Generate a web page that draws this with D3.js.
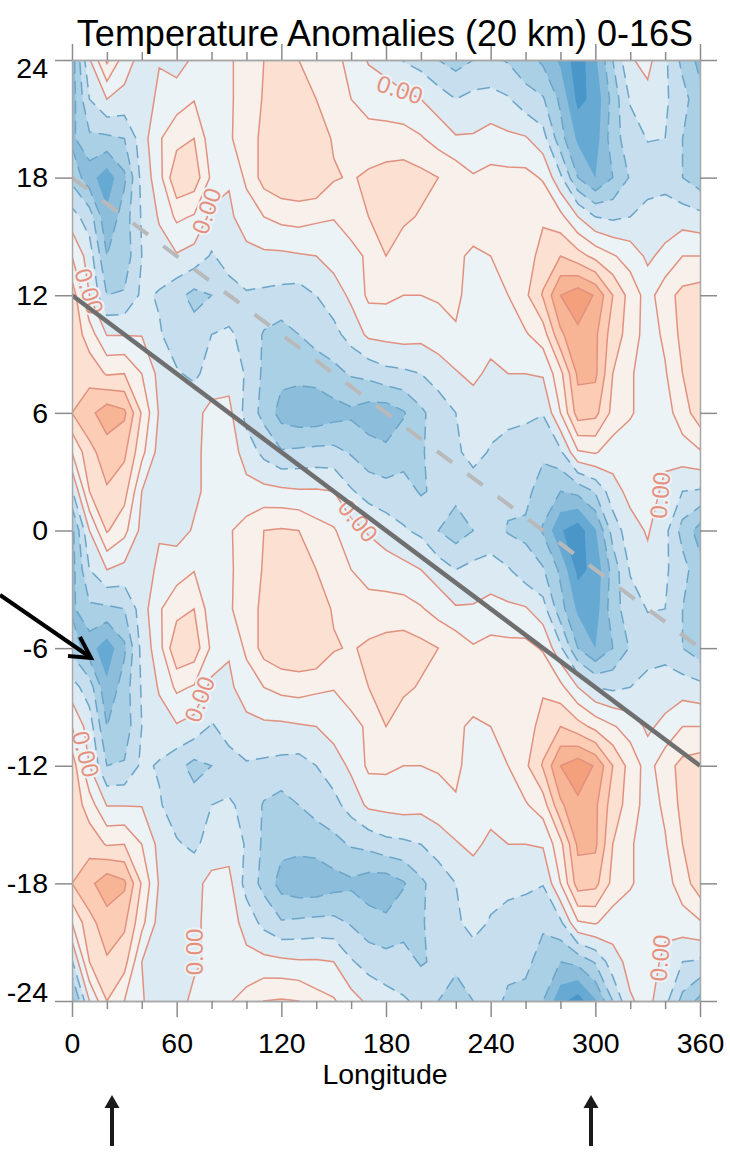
<!DOCTYPE html>
<html>
<head>
<meta charset="utf-8">
<script src="https://cdn.jsdelivr.net/npm/d3@7"></script>
<style>
  body { margin: 0; background: #fff; }
  svg { display: block; }
  text { font-family: "Liberation Sans", Arial, sans-serif; fill: #000; }
</style>
</head>
<body>
<div id="chart"></div>
<script>
// longitude every 10 deg, lag every 2 (in contour-level units)
var longitudes = d3.range(0, 361, 10);
var lags = d3.range(24, -25, -2);

var anomalies = [
  [-3.5,-0.1,2.2,0.5,-0.4,-0.05,-0.5,0.2,0.5,0.9,1.3,2.0,2.3,2.0,1.7,1.3,0.7,-0.1,-0.4,-1.05,-1.4,-2.0,-2.4,-2.0,-1.8,-2.1,-2.6,-3.2,-4.2,-5.6,-4.2,-2.0,-0.1,0.3,-0.8,-2.3,-3.3],
  [-3.5,-1,0,-0.3,-0.5,0.2,0.6,0.95,0.8,0.9,1.3,2.1,2.5,2.4,2.0,1.5,1.0,0.7,0.5,0.3,0,-0.5,-1,-0.7,-0.65,-0.9,-1.6,-1.9,-3.2,-5.3,-4.7,-2.6,-0.9,-0.3,-0.85,-1.6,-2.7],
  [-3.2,-2.2,-2.2,-2,-0.5,0.9,1.6,2,0.4,0.9,1.4,2.3,2.9,2.9,2.5,1.9,1.5,1.3,1.4,1.4,1.1,0.6,0.1,0.1,0.4,0.2,0.1,-0.6,-2.6,-4.2,-4.5,-2.4,-1.5,-0.95,-1,-2,-3],
  [-2.3,-3.6,-4.6,-3.2,-0.7,0.6,2.9,2.6,0.8,0.1,1.2,2.4,2.8,2.9,2.9,2.1,1.9,2.2,2.4,2.5,2.3,2.0,1.7,1.1,1.3,1.3,1.3,0.9,-0.8,-3,-4,-3,-1.9,-1.5,-1.3,-2,-2.6],
  [-0.6,-1.5,-3.8,-2.5,-0.9,0.1,1.2,0.9,-0.3,-0.2,0.5,1,1.3,1.4,1.2,1.05,1.6,2,2.6,2.2,1.9,1.6,1.4,1.3,1.3,1.2,1.1,1.85,1.3,0,-1,-1.2,-1,-0.6,-0.6,-0.5,-0.7],
  [1,-0.5,-3,-2.6,-1,-0.4,-0.1,-0.4,-1.1,-0.6,-0.3,-0.2,-0.2,-0.1,0,0.4,0.6,1.2,2,1.4,1.1,1.2,1.1,0.9,1,1.4,1.5,2.4,3,2.4,1.7,1.1,0.6,-0.2,0.3,1,1],
  [2.6,0,-2,-1.9,-0.8,-1.1,-1.7,-2.3,-2,-1.4,-1.1,-1.2,-1.3,-1.4,-1,-0.5,0.2,1.2,1.2,1,1,1.1,1.2,0.6,0.7,1,1.8,3.1,5,5.6,4.9,3,1.6,0.6,1.6,2.3,2.5],
  [2.7,1.5,-0.05,-0.05,-0.05,-0.9,-1.5,-1.6,-1,-0.9,-1.2,-2.1,-2.4,-2,-1.6,-1.3,-0.6,0.2,0.3,0.4,0.3,0.6,0.9,0.6,0.5,0.6,0.9,1.5,3.8,4.8,4.2,2.5,1.6,0.5,1.2,2.3,2.7],
  [2.8,2.6,1.9,2,1,-0.3,-0.9,-1.2,-0.6,-0.4,-1.1,-2.2,-2.7,-2.7,-2.6,-2.3,-1.9,-1.7,-1.3,-1.2,-1,-0.6,-0.1,0.3,-0.3,0,0,0.1,1.7,4.2,4.2,2,1.1,0.6,0.9,2,2.8],
  [3,3.7,4.6,4.2,1.9,-0.1,-0.5,-0.3,0.3,0.3,-1.4,-2.3,-3.4,-3.7,-3.7,-3.4,-3.2,-3.5,-3.6,-3.1,-2.2,-1.5,-1,-0.7,-0.6,-0.7,-0.8,-0.95,1,3.5,3.3,1.7,1.1,0.6,0.6,1.5,2.6],
  [1,2.7,3.5,3.2,1.3,-0.4,-0.8,-0.2,0.3,0.5,-0.4,-1.3,-1.9,-1.8,-1.7,-1.7,-2.1,-2.6,-2.8,-2.4,-2.1,-1.6,-1.2,-0.6,-1.1,-1.4,-1.5,-1.8,-1.2,0.9,1.1,0.5,0.5,0.3,0.2,0.6,0.9],
  [-1.1,2,2.9,2.4,0,-0.8,-0.9,-0.2,0.3,0.5,0.3,0.3,0.2,0.1,0.1,0,-0.9,-1.4,-1.6,-1.6,-2.1,-1.8,-1.7,-1.6,-1.5,-1.7,-1.7,-2.5,-3,-2.7,-1.9,-0.4,0.3,0.4,-0.2,-1,-1.1],
  [-3.3,0,2.1,1.3,-0.3,-0.1,-0.4,0.1,0.5,0.9,1.4,2,2.1,2,1.4,1.1,0.4,-0.1,-0.5,-0.9,-1.2,-2,-2.5,-2,-1.5,-2.1,-2.2,-3.1,-4.9,-5.6,-4.1,-1.6,-0.4,0.1,-0.7,-2.4,-3.4],
  [-3.4,-1,0,-0.3,-0.5,0.2,0.6,0.95,0.8,0.9,1.3,2.1,2.5,2.4,2.0,1.5,1.0,0.7,0.5,0.3,0,-0.5,-1,-0.7,-0.65,-0.9,-1.6,-1.9,-3.2,-5.3,-4.7,-2.6,-0.9,-0.3,-0.85,-1.6,-2.7],
  [-3.2,-2.2,-2.2,-2,-0.5,0.9,1.6,2,0.4,0.9,1.4,2.3,2.9,2.9,2.5,1.9,1.5,1.3,1.4,1.4,1.1,0.6,0.1,0.1,0.4,0.2,0.1,-0.6,-2.6,-4.2,-4.5,-2.4,-1.5,-0.95,-1,-2,-3],
  [-2.3,-3.6,-4.6,-3.2,-0.7,0.6,2.9,2.6,0.8,0.1,1.2,2.4,2.8,2.9,2.9,2.1,1.9,2.2,2.4,2.5,2.3,2.0,1.7,1.1,1.3,1.3,1.3,0.9,-0.8,-3,-4,-3,-1.9,-1.5,-1.3,-2,-2.6],
  [-0.6,-1.5,-3.8,-2.5,-0.9,0.1,1.2,0.9,-0.3,-0.2,0.5,1,1.3,1.4,1.2,1.05,1.6,2,2.6,2.2,1.9,1.6,1.4,1.3,1.3,1.2,1.1,1.85,1.3,0,-1,-1.2,-1,-0.6,-0.6,-0.5,-0.7],
  [1,-0.5,-3,-2.6,-1,-0.4,-0.1,-0.4,-1.1,-0.6,-0.3,-0.2,-0.2,-0.1,0,0.4,0.6,1.2,2,1.4,1.1,1.2,1.1,0.9,1,1.4,1.5,2.4,3,2.4,1.7,1.1,0.6,-0.2,0.3,1,1],
  [2.6,0,-2,-1.9,-0.8,-1.1,-1.7,-2.3,-2,-1.4,-1.1,-1.2,-1.3,-1.4,-1,-0.5,0.2,1.2,1.2,1,1,1.1,1.2,0.6,0.7,1,1.8,3.1,5,5.6,4.9,3,1.6,0.6,1.6,2.3,2.5],
  [2.7,1.5,-0.05,-0.05,-0.05,-0.9,-1.5,-1.6,-1,-0.9,-1.2,-2.1,-2.4,-2,-1.6,-1.3,-0.6,0.2,0.3,0.4,0.3,0.6,0.9,0.6,0.5,0.6,0.9,1.5,3.8,4.8,4.2,2.5,1.6,0.5,1.2,2.3,2.7],
  [2.8,2.6,1.9,2,1,-0.3,-0.9,-1.2,-0.6,-0.4,-1.1,-2.2,-2.7,-2.7,-2.6,-2.3,-1.9,-1.7,-1.3,-1.2,-1,-0.6,-0.1,0.3,-0.3,0,0,0.1,1.7,4.2,4.2,2,1.1,0.6,0.9,2,2.8],
  [3,3.7,4.7,4.2,1.9,-0.1,-0.5,-0.3,0.3,0.3,-1.4,-2.3,-3.4,-3.7,-3.7,-3.4,-3.2,-3.5,-3.6,-3.1,-2.2,-1.5,-1,-0.7,-0.6,-0.7,-0.8,-0.95,1,3.5,3.3,1.7,1.1,0.6,0.6,1.5,2.6],
  [1,2.7,3.5,3.2,1.3,-0.4,-0.8,-0.2,0.3,0.5,-0.4,-1.3,-1.9,-1.8,-1.7,-1.7,-2.1,-2.6,-2.8,-2.4,-2.1,-1.6,-1.2,-0.6,-1.1,-1.4,-1.5,-1.8,-1.2,0.9,1.1,0.5,0.5,0.3,0.2,0.6,0.9],
  [-1.1,2,2.9,2.4,0,-0.8,-0.9,-0.2,0.3,0.5,0.3,0.3,0.2,0.1,0.1,0,-0.9,-1.4,-1.6,-1.6,-2.1,-1.8,-1.7,-1.6,-1.5,-1.7,-1.7,-2.5,-3,-2.7,-1.9,-0.4,0.3,0.4,-0.2,-1,-1.1],
  [-3.5,0,2.0,1.0,0.1,-0.6,-0.5,0.3,0.5,0.9,1.4,2,2.1,2,1.4,1.1,0.4,-0.2,-0.6,-0.9,-1.2,-2,-2.6,-2,-1.6,-2.2,-2.4,-3,-4.7,-5.5,-4.1,-2,-0.1,0.3,-0.7,-2.3,-3.3]
];

var levels = [-5, -4, -3, -2, -1, 0, 1, 2, 3, 4, 5];
var bandColors = ["#4b96c8", "#66aad4", "#8cbedc", "#aad0e6", "#c6deee", "#dceaf3", "#ecf3f7",
                  "#f7f0eb", "#fce1d2", "#fccdb4", "#f7b596", "#f4a07d"];

var lagTicks = [24, 18, 12, 6, 0, -6, -12, -18, -24];
var lonMajor = [0, 60, 120, 180, 240, 300, 360];
var lonMinor = [20, 40, 80, 100, 140, 160, 200, 220, 260, 280, 320, 340];

// contour label positions, in data units
var zeroLabels = [
  { lon: 188, lag: 22.5, angle: 18 },
  { lon: 77, lag: 16.3, angle: -72 },
  { lon: 10, lag: 12.2, angle: 72 },
  { lon: 164, lag: 0.5, angle: 50 },
  { lon: 337, lag: 1.8, angle: -85 },
  { lon: 73, lag: -8.6, angle: -70 },
  { lon: 8, lag: -11.4, angle: 75 },
  { lon: 70, lag: -21.5, angle: -90 },
  { lon: 337, lag: -21.8, angle: -85 }
];

var width = 730, height = 1153;
var svg = d3.select("#chart").append("svg")
    .attr("width", width)
    .attr("height", height);

var x = d3.scaleLinear().domain([0, 360]).range([72, 700]);
var y = d3.scaleLinear().domain([24, -24]).range([60, 1001]);

svg.append("defs").append("clipPath").attr("id", "plot-clip")
  .append("rect")
    .attr("x", 72).attr("y", 60).attr("width", 628).attr("height", 941);

// contours works on grid index coords, cell centres at i + 0.5
var grid = d3.geoPath(d3.geoTransform({
  point: function(px, py) {
    var lon = (px - 0.5) * 10;
    var lag = 24 - (py - 0.5) * 2;
    this.stream.point(x(lon), y(lag));
  }
}));

var contours = d3.contours()
    .size([longitudes.length, lags.length])
    .thresholds(levels)(anomalies.flat());

var plot = svg.append("g").attr("clip-path", "url(#plot-clip)");

plot.append("rect")
    .attr("x", 72).attr("y", 60).attr("width", 628).attr("height", 941)
    .style("fill", bandColors[0]);

plot.selectAll("path.band").data(contours).enter().append("path")
    .attr("class", "band")
    .attr("d", grid)
    .style("fill", function(d, i) { return bandColors[i + 1]; });

plot.selectAll("path.level").data(contours.filter(function(d) { return d.value >= -3; })).enter().append("path")
    .attr("class", "level")
    .attr("d", grid)
    .style("fill", "none")
    .style("stroke", function(d) { return d.value < 0 ? "#6ba5c8" : "#e2917f"; })
    .style("stroke-width", 1.5)
    .style("stroke-dasharray", function(d) { return d.value < 0 ? "13,7" : null; });

// 0.00 labels, under the reference lines
plot.selectAll("text.zero").data(zeroLabels).enter().append("text")
    .attr("class", "zero")
    .attr("transform", function(d) { return "translate(" + x(d.lon) + "," + y(d.lag) + ") rotate(" + d.angle + ")"; })
    .attr("text-anchor", "middle")
    .attr("dy", "0.36em")
    .style("font-size", "24px")
    .style("fill", "#e6917e")
    .style("stroke", "#ecf3f7")
    .style("stroke-width", 4)
    .style("paint-order", "stroke")
    .text("0.00");

// reference lines
plot.append("line")
    .attr("x1", x(0)).attr("y1", y(18)).attr("x2", x(360)).attr("y2", y(-6))
    .style("stroke", "#b9b9b9").style("stroke-width", 4).style("stroke-dasharray", "19,19");
plot.append("line")
    .attr("x1", x(0)).attr("y1", y(12)).attr("x2", x(360)).attr("y2", y(-12))
    .style("stroke", "#6f6f6f").style("stroke-width", 4.5);

// axes
function styleAxis(g) {
  g.select(".domain").style("stroke", "#a8a8a8").style("stroke-width", 1.5);
  g.selectAll(".tick line").style("stroke", "#8c8c8c").style("stroke-width", 1.5);
  g.selectAll("text").style("font-size", "28.5px").style("font-family", "'Liberation Sans', Arial, sans-serif").style("fill", "#000");
}

var leftAxis = svg.append("g").attr("transform", "translate(72,0)")
    .call(d3.axisLeft(y).tickValues(lagTicks).tickSize(17).tickPadding(7).tickSizeOuter(0).tickFormat(function(d) { return String(d); }))
    .call(styleAxis);
// the end labels sit inside the frame in the original
leftAxis.selectAll(".tick text")
    .attr("y", function(d) { return d === 24 ? 8 : d === -24 ? -9 : 0; });

svg.append("g").attr("transform", "translate(700,0)")
    .call(d3.axisRight(y).tickValues(lagTicks).tickSize(17).tickFormat("").tickSizeOuter(0))
    .call(styleAxis);
svg.append("g").attr("transform", "translate(0,1001)")
    .call(d3.axisBottom(x).tickValues(lonMajor).tickSize(16).tickPadding(16).tickSizeOuter(0))
    .call(styleAxis);
svg.append("g").attr("transform", "translate(0,1001)")
    .call(d3.axisBottom(x).tickValues(lonMinor).tickSize(8).tickFormat("").tickSizeOuter(0))
    .call(styleAxis);
svg.append("g").attr("transform", "translate(0,60)")
    .call(d3.axisTop(x).tickValues(lonMajor).tickSize(16).tickFormat("").tickSizeOuter(0))
    .call(styleAxis);
svg.append("g").attr("transform", "translate(0,60)")
    .call(d3.axisTop(x).tickValues(lonMinor).tickSize(8).tickFormat("").tickSizeOuter(0))
    .call(styleAxis);

// title and axis name
svg.append("text")
    .attr("x", 385).attr("y", 46)
    .attr("text-anchor", "middle")
    .style("font-size", "36px")
    .text("Temperature Anomalies (20 km) 0-16S");
svg.append("text")
    .attr("x", 385).attr("y", 1084)
    .attr("text-anchor", "middle")
    .style("font-size", "28.5px")
    .text("Longitude");

// annotation arrows
var arrowColor = "#1a1a1a";
svg.append("line").attr("x1", 0).attr("y1", 595).attr("x2", 90).attr("y2", 657)
    .style("stroke", "#000").style("stroke-width", 4);
svg.append("path").attr("d", "M80,637 L91,658 L68,656")
    .style("fill", "none").style("stroke", "#000").style("stroke-width", 4);

[112, 591].forEach(function(ax) {
  svg.append("line").attr("x1", ax).attr("y1", 1146).attr("x2", ax).attr("y2", 1105)
      .style("stroke", arrowColor).style("stroke-width", 4);
  svg.append("path").attr("d", "M" + ax + ",1095 L" + (ax + 7.5) + ",1108 L" + (ax - 7.5) + ",1108 Z")
      .style("fill", arrowColor);
});
</script>
</body>
</html>
